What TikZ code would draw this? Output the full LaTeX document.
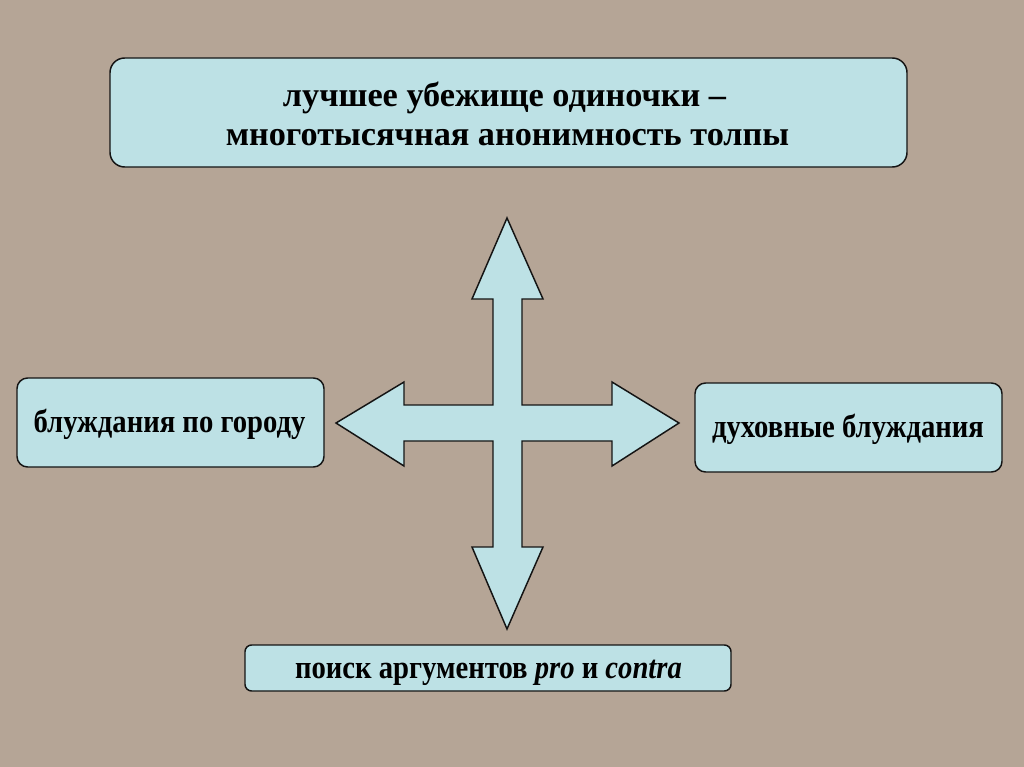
\documentclass[tikz,border=0pt]{standalone}
\usepackage{fontspec}
\setmainfont{Liberation Serif}
\definecolor{bgtan}{RGB}{181,165,150}
\definecolor{boxcyan}{RGB}{189,225,229}
\definecolor{edge}{RGB}{20,20,20}
\newcommand{\tallbox}[1]{\scalebox{1}[1.14]{#1}}
\begin{document}
\begin{tikzpicture}[x=0.75pt,y=-0.75pt,
  box/.style={draw=edge,line width=1.1pt,fill=boxcyan,inner sep=0pt},
  sidetext/.style={inner sep=0pt,anchor=base,font=\fontsize{21.5}{26}\selectfont\bfseries},
  toptextstyle/.style={inner sep=0pt,anchor=base,font=\fontsize{25.7}{30}\selectfont\bfseries}]
\fill[bgtan] (0,0) rectangle (1024,767);
\useasboundingbox (0,0) rectangle (1024,767);
% top box
\node[box,rounded corners=11pt,minimum width=797*0.75pt,minimum height=109*0.75pt] (top) at (508.5,112.5) {};
\node[toptextstyle] (toptexta) at (504.5,106) {лучшее убежище одиночки –};
\node[toptextstyle] (toptextb) at (507.5,145) {многотысячная анонимность толпы};
% left box
\node[box,rounded corners=8pt,minimum width=307*0.75pt,minimum height=89*0.75pt] (left) at (170.5,422.5) {};
\node[sidetext] (lefttext) at (169.5,432) {\tallbox{блуждания по городу}};
% right box
\node[box,rounded corners=8pt,minimum width=307*0.75pt,minimum height=89*0.75pt] (right) at (848.5,427.5) {};
\node[sidetext] (righttext) at (848,437) {\tallbox{духовные блуждания}};
% bottom box
\node[box,rounded corners=5pt,minimum width=486*0.75pt,minimum height=46*0.75pt] (bottom) at (488,668) {};
\node[sidetext] (bottomtext) at (488.5,678.5) {\tallbox{поиск аргументов \textit{pro} и \textit{contra}}};
% cross arrow
\draw[draw=edge,line width=1.1pt,fill=boxcyan,line join=miter]
  (507,218) -- (543,299) -- (522,299) -- (522,405) -- (612,405) -- (612,382)
  -- (679,423) -- (612,466) -- (612,441) -- (522,441) -- (522,547) -- (543,547)
  -- (507,629) -- (472,547) -- (493,547) -- (493,441) -- (404,441) -- (404,466)
  -- (336,423) -- (404,382) -- (404,405) -- (493,405) -- (493,299) -- (472,299) -- cycle;
\end{tikzpicture}
\end{document}
